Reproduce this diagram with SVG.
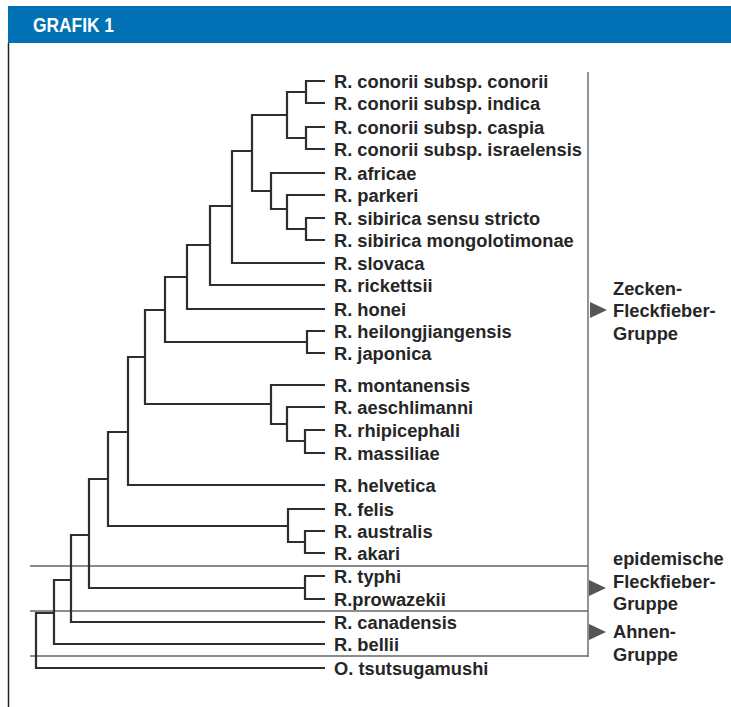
<svg xmlns="http://www.w3.org/2000/svg" width="731" height="707" viewBox="0 0 731 707">
<style>
.t{font-family:"Liberation Sans",Arial,sans-serif;font-weight:bold;font-size:18.3px;fill:#262626}
.br{fill:none;stroke:#2e2e2e;stroke-width:2.2;stroke-linejoin:miter}
.sep{stroke:#666;stroke-width:1.4;fill:none}
.arr{fill:#555}
</style>
<rect width="731" height="707" fill="#fff"/>
<rect x="8" y="6" width="723" height="37" fill="#0071b5"/>
<text x="33" y="32" font-family="Liberation Sans,Arial,sans-serif" font-weight="bold" font-size="21" fill="#fff" textLength="81" lengthAdjust="spacingAndGlyphs">GRAFIK 1</text>
<line x1="8.5" y1="43" x2="8.5" y2="707" stroke="#222" stroke-width="1.5"/>
<g id="frame">
<line class="sep" x1="588" y1="72" x2="588" y2="657" stroke="#777"/>
<line class="sep" x1="30" y1="566" x2="588" y2="566" stroke="#555"/>
<line class="sep" x1="30" y1="611" x2="588" y2="611" stroke="#999"/>
<line class="sep" x1="30" y1="656" x2="588" y2="656" stroke="#888"/>
</g>
<g id="connectors">
<path class="br" d="M325 81H306V103H325"/>
<path class="br" d="M325 127H306V149H325"/>
<path class="br" d="M306 92H287V138H306"/>
<path class="br" d="M325 218H306V240H325"/>
<path class="br" d="M325 195H287V229H306"/>
<path class="br" d="M325 173H271V209H287"/>
<path class="br" d="M287 115H252V191H271"/>
<path class="br" d="M252 151H232V263H325"/>
<path class="br" d="M232 206H210V285H325"/>
<path class="br" d="M210 245H187V309H325"/>
<path class="br" d="M325 331H307V353H325"/>
<path class="br" d="M187 277H165V342H307"/>
<path class="br" d="M325 430H305V453H325"/>
<path class="br" d="M325 407H287V441H305"/>
<path class="br" d="M325 385H271V424H287"/>
<path class="br" d="M165 310H145V404H271"/>
<path class="br" d="M145 357H128V485H325"/>
<path class="br" d="M325 531H305V553H325"/>
<path class="br" d="M325 509H288V542H305"/>
<path class="br" d="M128 432H108V526H288"/>
<path class="br" d="M325 576H305V599H325"/>
<path class="br" d="M108 479H89V588H305"/>
<path class="br" d="M89 535H71V622H325"/>
<path class="br" d="M71 580H54V644H325"/>
<path class="br" d="M54 613H36V668H325"/>
</g>
<g id="leaves">
<g id="n1"><text class="t" x="334" y="88">R. conorii subsp. conorii</text></g>
<g id="n2"><text class="t" x="334" y="110">R. conorii subsp. indica</text></g>
<g id="n3"><text class="t" x="334" y="134">R. conorii subsp. caspia</text></g>
<g id="n4"><text class="t" x="334" y="156">R. conorii subsp. israelensis</text></g>
<g id="n5"><text class="t" x="334" y="180">R. africae</text></g>
<g id="n6"><text class="t" x="334" y="202">R. parkeri</text></g>
<g id="n7"><text class="t" x="334" y="225">R. sibirica sensu stricto</text></g>
<g id="n8"><text class="t" x="334" y="247">R. sibirica mongolotimonae</text></g>
<g id="n9"><text class="t" x="334" y="270">R. slovaca</text></g>
<g id="n10"><text class="t" x="334" y="292">R. rickettsii</text></g>
<g id="n11"><text class="t" x="334" y="316">R. honei</text></g>
<g id="n12"><text class="t" x="334" y="338">R. heilongjiangensis</text></g>
<g id="n13"><text class="t" x="334" y="360">R. japonica</text></g>
<g id="n14"><text class="t" x="334" y="392">R. montanensis</text></g>
<g id="n15"><text class="t" x="334" y="414">R. aeschlimanni</text></g>
<g id="n16"><text class="t" x="334" y="437">R. rhipicephali</text></g>
<g id="n17"><text class="t" x="334" y="460">R. massiliae</text></g>
<g id="n18"><text class="t" x="334" y="492">R. helvetica</text></g>
<g id="n19"><text class="t" x="334" y="516">R. felis</text></g>
<g id="n20"><text class="t" x="334" y="538">R. australis</text></g>
<g id="n21"><text class="t" x="334" y="560">R. akari</text></g>
<g id="n22"><text class="t" x="334" y="583">R. typhi</text></g>
<g id="n23"><text class="t" x="334" y="606">R.prowazekii</text></g>
<g id="n24"><text class="t" x="334" y="629">R. canadensis</text></g>
<g id="n25"><text class="t" x="334" y="651">R. bellii</text></g>
<g id="n26"><text class="t" x="334" y="675">O. tsutsugamushi</text></g>
</g>
<g id="grp-zecken">
<polygon class="arr" points="590,302 607,310 590,318"/>
<text class="t" x="613" y="295">Zecken-</text>
<text class="t" x="613" y="317">Fleckfieber-</text>
<text class="t" x="613" y="340">Gruppe</text>
</g>
<g id="grp-epidem">
<polygon class="arr" points="589,580 606,588 589,596"/>
<text class="t" x="613" y="565">epidemische</text>
<text class="t" x="613" y="588">Fleckfieber-</text>
<text class="t" x="613" y="610">Gruppe</text>
</g>
<g id="grp-ahnen">
<polygon class="arr" points="589,624 606,632 589,640"/>
<text class="t" x="613" y="638">Ahnen-</text>
<text class="t" x="613" y="661">Gruppe</text>
</g>
</svg>
